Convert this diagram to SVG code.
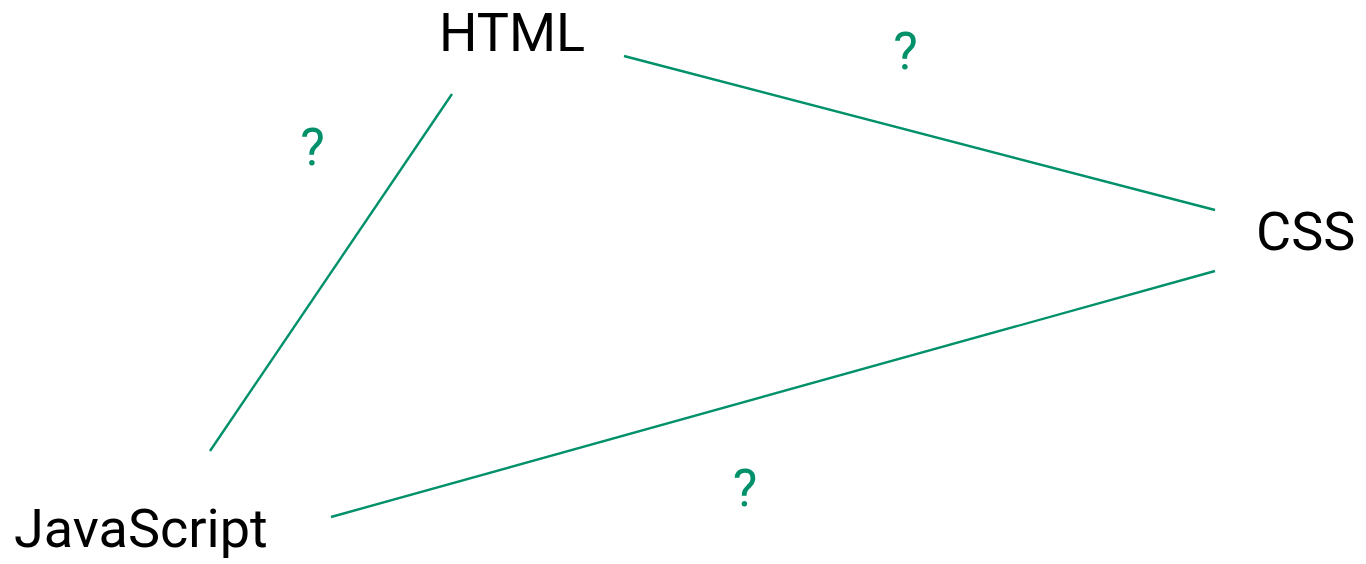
<svg xmlns="http://www.w3.org/2000/svg" width="1366" height="564" viewBox="0 0 1366 564">
<style>
.node{font-family:Roboto,"Liberation Sans",sans-serif;font-size:54px;fill:#000}
.lbl{font-family:Roboto,"Liberation Sans",sans-serif;font-size:52px;fill:#00906a;text-anchor:middle}
.edge{stroke:#00906a;stroke-width:2.4;fill:none}
</style>
<rect width="1366" height="564" fill="#fff"/>
<g id="connectors">
<line class="edge" x1="452" y1="94" x2="210" y2="451"/>
<line class="edge" x1="624" y1="56" x2="1215" y2="210"/>
<line class="edge" x1="1215" y1="271" x2="331" y2="517"/>
<text class="lbl" x="312.5" y="165">?</text>
<text class="lbl" x="905.5" y="69">?</text>
<text class="lbl" x="745" y="506">?</text>
</g>
<g id="html"><text class="node" x="439" y="51">HTML</text></g>
<g id="css"><text class="node" x="1256" y="250">CSS</text></g>
<g id="javascript"><text class="node" x="14" y="547">JavaScript</text></g>
</svg>
